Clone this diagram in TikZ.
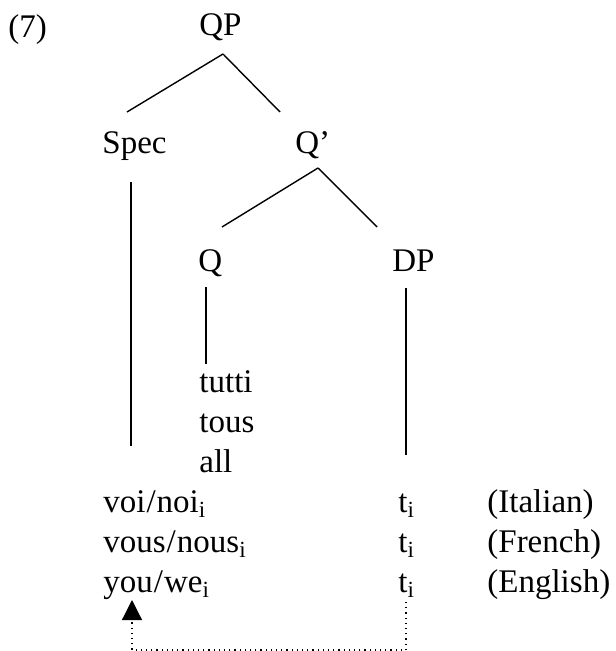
\documentclass[tikz,border=0pt]{standalone}
\usepackage{fontspec}
\setmainfont{Liberation Serif}
\usetikzlibrary{arrows.meta, positioning}

\begin{document}
\begin{tikzpicture}[
            x=0.5pt, y=-0.5pt,
            word/.style={inner sep=0pt, anchor=base west, font=\fontsize{16.5}{19}\selectfont},
            branch/.style={line width=0.7pt, black},
            trace/.style={-{Triangle[width=10pt, length=10pt]}, dotted, line width=0.6pt, black}
        ]
            \useasboundingbox (0,0) rectangle (615,651);

            % Labels of the tree
            \node[word] (ex) at (8,38) {(7)};
            \node[word] (QP) at (199,36) {QP};
            \node[word] (spec) at (102,154) {Spec};
            \node[word] (qbar) at (295,154) {Q’};
            \node[word] (q) at (198,272) {Q};
            \node[word] (dp) at (392,272) {DP};

            % Quantifiers
            \node[word] (tutti) at (199,392) {tutti};
            \node[word] (tous) at (199,432) {tous};
            \node[word] (all) at (199,472) {all};

            % Pronouns, traces, languages
            \node[word] (voi) at (103,512) {voi\kern0.5pt/\kern0.5pt noi\textsubscript{i}};
            \node[word] (vous) at (103,552) {vous\kern0.5pt/\kern0.5pt nous\textsubscript{i}};
            \node[word] (you) at (103,592) {you\kern0.5pt/\kern0.5pt we\textsubscript{i}};
            \node[word] (tI) at (398,512) {t\textsubscript{i}};
            \node[word] (tF) at (398,552) {t\textsubscript{i}};
            \node[word] (tE) at (398,592) {t\textsubscript{i}};
            \node[word] (ital) at (487,512) {(Italian)};
            \node[word] (fren) at (487,552) {(French)};
            \node[word] (engl) at (487,592) {(English)};

            % Branches
            \draw[branch] ([shift={(24,18)}]QP.base west) -- ([shift={(25,-42)}]spec.base west);
            \draw[branch] ([shift={(24,18)}]QP.base west) -- ([shift={(-15,-42)}]qbar.base west);
            \draw[branch] ([shift={(23,14)}]qbar.base west) -- ([shift={(24,-45)}]q.base west);
            \draw[branch] ([shift={(23,14)}]qbar.base west) -- ([shift={(-15,-45)}]dp.base west);
            \draw[branch] ([shift={(29,28)}]spec.base west) -- ([shift={(28,-66)}]voi.base west);
            \draw[branch] ([shift={(8,15)}]q.base west) -- ([shift={(7,-28)}]tutti.base west);
            \draw[branch] ([shift={(14,16)}]dp.base west) -- ([shift={(8,-57)}]tI.base west);

            % Movement
            \draw[trace] ([shift={(8,10)}]tE.base west) -- ++(0,48) -| ([shift={(29,8)}]you.base west);
        \end{tikzpicture}
\end{document}
